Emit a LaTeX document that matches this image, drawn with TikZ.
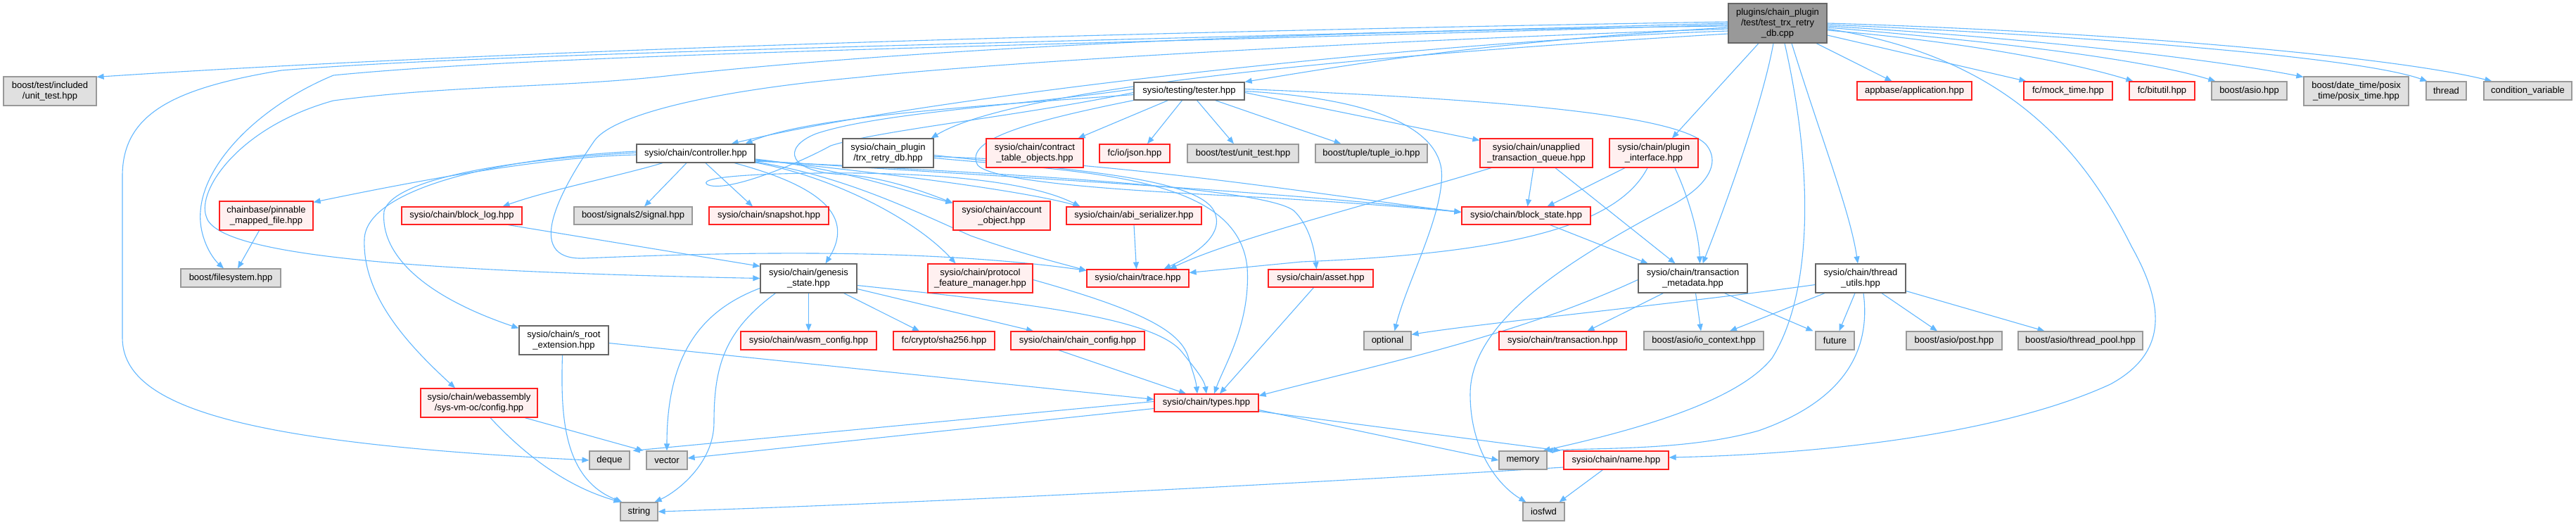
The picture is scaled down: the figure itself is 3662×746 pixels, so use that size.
\documentclass[tikz,border=0pt]{standalone}
\usepackage{fontspec}
\setmainfont{Liberation Sans}
\usetikzlibrary{arrows.meta}
\pgfdeclarelayer{bg}
\pgfsetlayers{bg,main}
\definecolor{edgecol}{HTML}{63B8FF}
\definecolor{redfill}{HTML}{FFF0F0}
\definecolor{redline}{HTML}{FF2020}
\definecolor{grayfill}{HTML}{E0E0E0}
\definecolor{grayline}{HTML}{999999}
\definecolor{whiteline}{HTML}{666666}
\definecolor{srcfill}{HTML}{999999}
\tikzset{
  basebox/.style={draw, rectangle, inner sep=0pt, align=center, font=\fontsize{13}{15}\selectfont, line width=1.2pt},
  rednode/.style={basebox, draw=redline, fill=redfill},
  graynode/.style={basebox, draw=grayline, fill=grayfill},
  whitenode/.style={basebox, draw=whiteline, fill=white},
  srcnode/.style={basebox, draw=whiteline, fill=srcfill},
  dep/.style={draw=edgecol, line width=1.1pt, -{Triangle[length=10pt,width=8pt]}}
}
\newcommand{\nd}[7]{\node[#2, minimum width={(#5-#3)*1pt}, minimum height={(#6-#4)*1pt}] (#1) at ({(#3+#5)/2},{(#4+#6)/2}) {#7};}
\begin{document}
\begin{tikzpicture}[x=1pt,y=-1pt]
\useasboundingbox (0,0) rectangle (3662,746);
\begin{pgfonlayer}{bg}
\fill[white] (0,0) rectangle (3662,746);
\end{pgfonlayer}
% nodes
\nd{src}{srcnode}{2457}{5}{2597}{61}{plugins/chain\_plugin\\/test/test\_trx\_retry\\\_db.cpp}
\nd{unitinc}{graynode}{5}{109}{137}{150}{boost/test/included\\/unit\_test.hpp}
\nd{appbase}{rednode}{2640}{116}{2803}{142}{appbase/application.hpp}
\nd{mocktime}{rednode}{2877}{116}{3003}{142}{fc/mock\_time.hpp}
\nd{bitutil}{rednode}{3027}{116}{3120}{142}{fc/bitutil.hpp}
\nd{asio}{graynode}{3144}{116}{3251}{142}{boost/asio.hpp}
\nd{posix}{graynode}{3275}{109}{3424}{150}{boost/date\_time/posix\\\_time/posix\_time.hpp}
\nd{thread}{graynode}{3449}{116}{3506}{142}{thread}
\nd{condvar}{graynode}{3531}{116}{3656}{142}{condition\_variable}
\nd{tester}{whitenode}{1612}{117}{1769}{142}{sysio/testing/tester.hpp}
\nd{controller}{whitenode}{905}{205}{1073}{231}{sysio/chain/controller.hpp}
\nd{trxretry}{whitenode}{1198}{197}{1327}{238}{sysio/chain\_plugin\\/trx\_retry\_db.hpp}
\nd{contract}{rednode}{1402}{197}{1540}{238}{sysio/chain/contract\\\_table\_objects.hpp}
\nd{json}{rednode}{1563}{205}{1663}{231}{fc/io/json.hpp}
\nd{unittest}{graynode}{1688}{205}{1846}{231}{boost/test/unit\_test.hpp}
\nd{tupleio}{graynode}{1870}{205}{2029}{231}{boost/tuple/tuple\_io.hpp}
\nd{unapplied}{rednode}{2104}{197}{2264}{238}{sysio/chain/unapplied\\\_transaction\_queue.hpp}
\nd{plugin}{rednode}{2288}{197}{2414}{238}{sysio/chain/plugin\\\_interface.hpp}
\nd{pinnable}{rednode}{312}{286}{445}{327}{chainbase/pinnable\\\_mapped\_file.hpp}
\nd{blocklog}{rednode}{571}{294}{742}{319}{sysio/chain/block\_log.hpp}
\nd{signal}{graynode}{816}{294}{984}{319}{boost/signals2/signal.hpp}
\nd{snapshot}{rednode}{1008}{294}{1178}{319}{sysio/chain/snapshot.hpp}
\nd{account}{rednode}{1355}{286}{1493}{327}{sysio/chain/account\\\_object.hpp}
\nd{abi}{rednode}{1516}{294}{1708}{319}{sysio/chain/abi\_serializer.hpp}
\nd{blockstate}{rednode}{2078}{294}{2261}{319}{sysio/chain/block\_state.hpp}
\nd{filesystem}{graynode}{257}{382}{399}{408}{boost/filesystem.hpp}
\nd{genesis}{whitenode}{1081}{375}{1218}{416}{sysio/chain/genesis\\\_state.hpp}
\nd{protocol}{rednode}{1319}{375}{1468}{416}{sysio/chain/protocol\\\_feature\_manager.hpp}
\nd{trace}{rednode}{1545}{383}{1690}{408}{sysio/chain/trace.hpp}
\nd{asset}{rednode}{1803}{383}{1952}{408}{sysio/chain/asset.hpp}
\nd{trxmeta}{whitenode}{2329}{375}{2484}{416}{sysio/chain/transaction\\\_metadata.hpp}
\nd{threadutils}{whitenode}{2581}{375}{2709}{416}{sysio/chain/thread\\\_utils.hpp}
\nd{srootext}{whitenode}{738}{463}{865}{504}{sysio/chain/s\_root\\\_extension.hpp}
\nd{wasmcfg}{rednode}{1053}{471}{1246}{497}{sysio/chain/wasm\_config.hpp}
\nd{sha}{rednode}{1270}{471}{1414}{497}{fc/crypto/sha256.hpp}
\nd{chaincfg}{rednode}{1437}{471}{1627}{497}{sysio/chain/chain\_config.hpp}
\nd{optional}{graynode}{1939}{471}{2006}{497}{optional}
\nd{transaction}{rednode}{2131}{471}{2312}{497}{sysio/chain/transaction.hpp}
\nd{iocontext}{graynode}{2337}{471}{2507}{497}{boost/asio/io\_context.hpp}
\nd{future}{graynode}{2581}{471}{2636}{497}{future}
\nd{post}{graynode}{2710}{471}{2846}{497}{boost/asio/post.hpp}
\nd{threadpool}{graynode}{2869}{471}{3046}{497}{boost/asio/thread\_pool.hpp}
\nd{webasm}{rednode}{598}{552}{764}{593}{sysio/chain/webassembly\\/sys-vm-oc/config.hpp}
\nd{types}{rednode}{1641}{560}{1789}{585}{sysio/chain/types.hpp}
\nd{deque}{graynode}{838}{641}{895}{667}{deque}
\nd{vector}{graynode}{919}{641}{977}{667}{vector}
\nd{memory}{graynode}{2131}{641}{2199}{667}{memory}
\nd{namehpp}{rednode}{2223}{641}{2372}{667}{sysio/chain/name.hpp}
\nd{string}{graynode}{882}{714}{935}{740}{string}
\nd{iosfwd}{graynode}{2165}{714}{2224}{740}{iosfwd}
% edges
\begin{pgfonlayer}{bg}
% from the source file
\draw[dep] ([yshift=2pt]src.west) .. controls (1600,45) and (700,72) .. ([yshift=-1pt]unitinc.north east);
\draw[dep] (src.west) .. controls (1500,60) and (700,75) .. (400,100) .. controls (250,125) and (174,160) .. (174,250) -- (174,480) .. controls (174,580) and (350,630) .. (deque.west);
\draw[dep] ([yshift=-2pt]src.west) .. controls (1500,65) and (800,75) .. (474,107) .. controls (370,150) and (290,230) .. (285,300) .. controls (282,335) and (300,365) .. ([xshift=-10pt]filesystem.north);
\draw[dep] ([yshift=-4pt]src.west) .. controls (1800,45) and (1300,70) .. (956,107) .. controls (800,125) and (650,120) .. (474,143) .. controls (340,180) and (280,270) .. (293,307) .. controls (305,360) and (550,385) .. (genesis.west);
\draw[dep] ([yshift=-6pt]src.west) .. controls (2100,60) and (1900,95) .. (tester.north east);
\draw[dep] ([yshift=-8pt]src.west) .. controls (1900,60) and (1400,90) .. (1220,110) .. controls (1000,130) and (870,165) .. (845,200) .. controls (800,265) and (740,370) .. (830,367) .. controls (1000,360) and (1300,350) .. ([yshift=-2pt]trace.north west);
\draw[dep] ([yshift=-11pt]src.west) .. controls (2000,60) and (1300,140) .. ([xshift=-34pt]controller.north east);
\draw[dep] ([yshift=-15pt]src.west) .. controls (2000,75) and (1450,120) .. ([xshift=-4pt]trxretry.north east);
\draw[dep] ([xshift=-27pt]src.south) -- ([xshift=26pt]plugin.north);
\draw[dep] ([xshift=-6pt]src.south) .. controls (2505,150) and (2450,300) .. ([xshift=14pt]trxmeta.north);
\draw[dep] ([xshift=10pt]src.south) .. controls (2580,250) and (2575,420) .. (2519,509) .. controls (2470,570) and (2330,610) .. ([xshift=-6pt]memory.north east);
\draw[dep] ([xshift=20pt]src.south) .. controls (2590,200) and (2630,300) .. ([xshift=-4pt]threadutils.north);
\draw[dep] ([xshift=55pt]src.south) -- ([xshift=-32pt]appbase.north);
\draw[dep] ([yshift=-17pt]src.east) -- ([xshift=4pt]mocktime.north west);
\draw[dep] ([yshift=-10pt]src.east) .. controls (2800,60) and (2950,90) .. ([xshift=6pt]bitutil.north west);
\draw[dep] ([yshift=-6pt]src.east) .. controls (2850,60) and (3050,85) .. ([xshift=6pt]asio.north west);
\draw[dep] ([yshift=-4pt]src.east) .. controls (2900,55) and (3150,85) .. ([yshift=-1pt]posix.north west);
\draw[dep] ([yshift=-2pt]src.east) .. controls (2950,50) and (3350,80) .. ([xshift=2pt]thread.north west);
\draw[dep] (src.east) .. controls (3000,45) and (3400,80) .. ([xshift=12pt]condvar.north west);
\draw[dep] ([yshift=-8pt]src.east) .. controls (2850,80) and (2960,210) .. (3030,350) .. controls (3075,430) and (3085,500) .. (3000,546) .. controls (2850,615) and (2600,645) .. ([yshift=4pt]namehpp.east);
% tester
\draw[dep] ([yshift=-5pt]tester.west) .. controls (1400,150) and (1150,165) .. ([xshift=-14pt]controller.north east);
\draw[dep] ([xshift=-30pt]tester.south) -- ([xshift=-8pt]contract.north east);
\draw[dep] ([xshift=-10pt]tester.south) -- ([xshift=18pt]json.north);
\draw[dep] ([xshift=11pt]tester.south) -- ([xshift=-13pt]unittest.north);
\draw[dep] ([xshift=37pt]tester.south) -- ([xshift=-43pt]tupleio.north);
\draw[dep] ([yshift=-2pt]tester.east) -- ([yshift=-3pt]unapplied.north west);
\draw[dep] (tester.east) .. controls (1950,140) and (2040,180) .. (2049,240) .. controls (2055,300) and (2000,400) .. ([xshift=10pt]optional.north);
\draw[dep] ([yshift=3pt]tester.east) .. controls (2100,140) and (2380,160) .. (2425,205) .. controls (2450,235) and (2420,270) .. (2370,295) .. controls (2250,360) and (2090,450) .. (2090,560) .. controls (2090,640) and (2130,690) .. ([xshift=5pt]iosfwd.north west);
\draw[dep] (tester.south west) .. controls (1450,175) and (1370,200) .. (1390,235) .. controls (1420,265) and (1700,275) .. (1820,282) .. controls (1950,290) and (2030,297) .. ([yshift=5pt]blockstate.west);
\draw[dep] ([yshift=3pt]tester.west) .. controls (1450,150) and (1250,160) .. (1160,190) .. controls (1110,210) and (1120,245) .. (1200,248) .. controls (1260,252) and (1320,275) .. ([yshift=-3pt]account.north west);
\draw[dep] ([yshift=-2pt]tester.west) .. controls (1450,165) and (1250,185) .. (1181,207) .. controls (1130,235) and (1030,275) .. (1005,262) .. controls (990,250) and (1100,245) .. (1220,246) .. controls (1380,248) and (1480,265) .. ([xshift=20pt]abi.north west);
% controller
\draw[dep] ([yshift=-2pt]controller.west) .. controls (800,222) and (650,245) .. ([yshift=-2pt]pinnable.north east);
\draw[dep] ([yshift=1pt]controller.west) .. controls (750,225) and (560,250) .. (546,300) .. controls (540,360) and (600,420) .. ([yshift=-4pt]srootext.north west);
\draw[dep] ([yshift=3pt]controller.west) .. controls (700,225) and (520,270) .. (518,340) .. controls (515,420) and (580,490) .. ([xshift=-34pt]webasm.north);
\draw[dep] ([xshift=-47pt]controller.south) .. controls (880,250) and (780,270) .. ([xshift=58pt]blocklog.north);
\draw[dep] ([xshift=-13pt]controller.south) -- ([xshift=16pt]signal.north);
\draw[dep] ([xshift=14pt]controller.south) -- ([xshift=-23pt]snapshot.north);
\draw[dep] ([xshift=55pt]controller.south) .. controls (1150,260) and (1220,300) .. ([xshift=24pt]genesis.north);
\draw[dep] ([yshift=-8pt]controller.east) .. controls (1200,240) and (1280,270) .. ([yshift=-3pt]account.north west);
\draw[dep] ([yshift=-9pt]controller.east) .. controls (1250,245) and (1450,270) .. ([xshift=20pt]abi.north west);
\draw[dep] ([yshift=-10pt]controller.east) .. controls (1400,250) and (1800,270) .. ([yshift=5pt]blockstate.west);
\draw[dep] ([yshift=-12pt]controller.east) .. controls (1200,250) and (1300,300) .. (1380,335) .. controls (1450,360) and (1500,372) .. ([yshift=-2pt]trace.north west);
\draw[dep] ([yshift=-13pt]controller.east) .. controls (1180,250) and (1300,310) .. ([xshift=-35pt]protocol.north);
\draw[dep] ([yshift=-11pt]controller.east) .. controls (1400,245) and (1800,265) .. (1840,300) .. controls (1860,320) and (1868,350) .. ([xshift=-6pt]asset.north);
% trx_retry_db
\draw[dep] ([yshift=-5pt]trxretry.east) .. controls (1600,230) and (1900,280) .. ([yshift=5pt]blockstate.west);
\draw[dep] ([yshift=-3pt]trxretry.east) .. controls (1500,240) and (1700,250) .. (1726,300) .. controls (1745,340) and (1680,370) .. ([xshift=37pt]trace.north);
\draw[dep] ([yshift=-7pt]trxretry.east) .. controls (1550,245) and (1760,250) .. (1773,380) .. controls (1778,460) and (1740,520) .. ([xshift=11pt]types.north);
% unapplied / plugin / block_state
\draw[dep] ([xshift=-4pt]unapplied.south) -- ([xshift=2pt]blockstate.north);
\draw[dep] ([xshift=27pt]unapplied.south) -- ([xshift=-25pt]trxmeta.north);
\draw[dep] ([xshift=-64pt]unapplied.south) .. controls (1950,290) and (1750,340) .. ([xshift=45pt]trace.north);
\draw[dep] ([xshift=-41pt]plugin.south) -- ([xshift=30pt]blockstate.north);
\draw[dep] ([xshift=30pt]plugin.south) .. controls (2400,280) and (2415,330) .. ([xshift=10pt]trxmeta.north);
\draw[dep] ([xshift=-9pt]plugin.south) .. controls (2300,320) and (2150,360) .. (1850,372) -- ([yshift=8pt]trace.east);
\draw[dep] ([xshift=34pt]blockstate.south) -- ([xshift=-64pt]trxmeta.north);
% others
\draw[dep] (abi.south) -- ([xshift=-2pt]trace.north);
\draw[dep] ([xshift=-10pt]pinnable.south) -- ([xshift=10pt]filesystem.north);
\draw[dep] ([xshift=66pt]blocklog.south) -- ([yshift=-4pt]genesis.north west);
% genesis
\draw[dep] (genesis.south) -- (wasmcfg.north);
\draw[dep] ([xshift=50pt]genesis.south) -- ([xshift=-35pt]sha.north);
\draw[dep] ([yshift=-15pt]genesis.east) -- ([xshift=-63pt]chaincfg.north);
\draw[dep] ([yshift=-10pt]genesis.east) .. controls (1450,430) and (1640,450) .. (1680,500) .. controls (1700,525) and (1712,540) .. (types.north);
\draw[dep] ([yshift=-14pt]genesis.west) .. controls (1000,440) and (948,500) .. (vector.north);
\draw[dep] ([xshift=-47pt]genesis.south) .. controls (1030,470) and (1015,520) .. (1015,600) .. controls (1015,660) and (960,700) .. ([xshift=-5pt]string.north east);
% to types
\draw[dep] ([xshift=-27pt]chaincfg.south) -- ([xshift=-29pt]types.north);
\draw[dep] ([yshift=-2pt]protocol.east) .. controls (1620,440) and (1680,470) .. (1690,510) .. controls (1696,530) and (1700,540) .. ([xshift=-13pt]types.north);
\draw[dep] ([xshift=-10pt]asset.south) -- ([xshift=19pt]types.north);
\draw[dep] ([yshift=-2pt]trxmeta.west) .. controls (2150,480) and (1950,520) .. ([yshift=-3pt]types.north east);
\draw[dep] ([yshift=-4pt]srootext.east) -- ([yshift=5pt]types.west);
% s_root / webassembly
\draw[dep] ([xshift=-2pt]srootext.south) .. controls (797,590) and (800,680) .. ([xshift=3pt]string.north west);
\draw[dep] ([xshift=16pt]webasm.south) .. controls (740,640) and (800,690) .. ([xshift=1pt]string.north west);
\draw[dep] ([xshift=65pt]webasm.south) -- ([xshift=-4pt]vector.north west);
% types outgoing
\draw[dep] ([yshift=2pt]types.west) -- ([xshift=4pt]deque.north east);
\draw[dep] ([yshift=-8pt]types.west) -- ([yshift=3pt]vector.east);
\draw[dep] ([yshift=-10pt]types.east) -- (memory.west);
\draw[dep] ([yshift=-12pt]types.east) -- ([xshift=-4pt]namehpp.north west);
% name
\draw[dep] ([xshift=-19pt]namehpp.south) -- ([xshift=-8pt]iosfwd.north east);
\draw[dep] ([yshift=-10pt]namehpp.west) .. controls (1800,690) and (1300,715) .. (string.east);
% transaction metadata
\draw[dep] ([xshift=-42pt]trxmeta.south) -- ([xshift=35pt]transaction.north);
\draw[dep] ([xshift=4pt]trxmeta.south) -- ([xshift=-4pt]iocontext.north);
\draw[dep] ([xshift=45pt]trxmeta.south) -- ([xshift=-3pt]future.north west);
% thread utils
\draw[dep] ([yshift=-9pt]threadutils.west) .. controls (2400,430) and (2100,460) .. ([yshift=-5pt]optional.north east);
\draw[dep] ([xshift=-51pt]threadutils.south) -- ([xshift=37pt]iocontext.north);
\draw[dep] ([xshift=-8pt]threadutils.south) -- ([xshift=6pt]future.north);
\draw[dep] ([xshift=30pt]threadutils.south) -- ([xshift=-24pt]post.north);
\draw[dep] ([yshift=-18pt]threadutils.east) -- ([xshift=-51pt]threadpool.north);
\draw[dep] ([xshift=4pt]threadutils.south) .. controls (2660,500) and (2620,570) .. (2500,612) .. controls (2400,640) and (2280,636) .. ([xshift=-2pt]memory.north east);
\end{pgfonlayer}
\end{tikzpicture}
\end{document}
